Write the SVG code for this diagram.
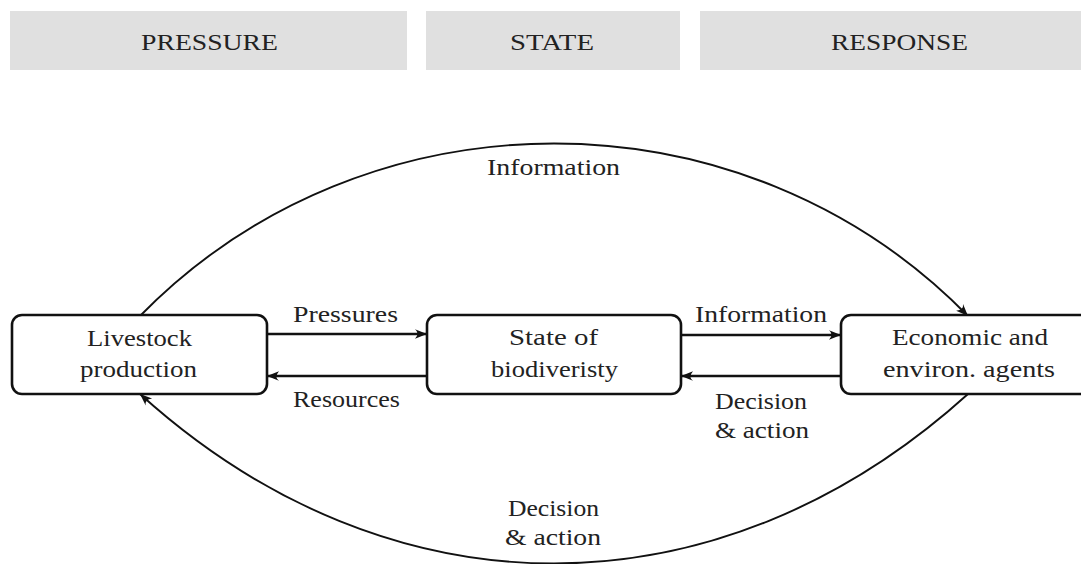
<svg xmlns="http://www.w3.org/2000/svg" width="1081" height="564" viewBox="0 0 1081 564">
  <style>
    text { font-family: "Liberation Serif", "Times New Roman", serif; font-size: 23px; fill: #222; text-anchor: middle; }
    .band { fill: #e0e0e0; }
    .box { fill: #ffffff; stroke: #111; stroke-width: 2.6; }
    .link { fill: none; stroke: #111; stroke-width: 2.4; }
    .arc { fill: none; stroke: #111; stroke-width: 1.9; }
  </style>
  <defs>
    <marker id="tip" markerUnits="userSpaceOnUse" markerWidth="14" markerHeight="12" refX="12" refY="6" orient="auto">
      <path d="M0,1.2 Q5,5 0,10.8 L12,6 Z" fill="#111"/>
    </marker>
  </defs>

  <!-- header bands -->
  <g id="header-pressure">
    <rect class="band" x="10" y="11" width="397" height="59"/>
    <text x="209.5" y="50" textLength="137" lengthAdjust="spacingAndGlyphs">PRESSURE</text>
  </g>
  <g id="header-state">
    <rect class="band" x="426" y="11" width="254" height="59"/>
    <text x="552" y="50" textLength="84" lengthAdjust="spacingAndGlyphs">STATE</text>
  </g>
  <g id="header-response">
    <rect class="band" x="700" y="11" width="381" height="59"/>
    <text x="899.5" y="50" textLength="137" lengthAdjust="spacingAndGlyphs">RESPONSE</text>
  </g>

  <!-- connectors -->
  <g id="connectors">
    <path class="arc" d="M140,316 C365,86 743,86 968,316" marker-end="url(#tip)"/>
    <path class="arc" d="M968,394 C718,620 390,620 140,394" marker-end="url(#tip)"/>
    <line class="link" x1="267" y1="334" x2="427" y2="334" marker-end="url(#tip)"/>
    <line class="link" x1="427" y1="376" x2="267" y2="376" marker-end="url(#tip)"/>
    <line class="link" x1="681" y1="335" x2="841" y2="335" marker-end="url(#tip)"/>
    <line class="link" x1="841" y1="376" x2="681" y2="376" marker-end="url(#tip)"/>
    <text x="553.5" y="175" textLength="133" lengthAdjust="spacingAndGlyphs">Information</text>
    <text x="345.5" y="322" textLength="105" lengthAdjust="spacingAndGlyphs">Pressures</text>
    <text x="346.5" y="407" textLength="107" lengthAdjust="spacingAndGlyphs">Resources</text>
    <text x="761" y="322" textLength="132" lengthAdjust="spacingAndGlyphs">Information</text>
    <text x="761" y="409" textLength="92" lengthAdjust="spacingAndGlyphs">Decision</text>
    <text x="762" y="438" textLength="94" lengthAdjust="spacingAndGlyphs">&amp; action</text>
    <text x="553.5" y="516" textLength="91" lengthAdjust="spacingAndGlyphs">Decision</text>
    <text x="553" y="545" textLength="96" lengthAdjust="spacingAndGlyphs">&amp; action</text>
  </g>

  <!-- nodes -->
  <g id="node-livestock">
    <rect class="box" x="12" y="315" width="255" height="79" rx="10"/>
    <text x="139.5" y="346" textLength="105" lengthAdjust="spacingAndGlyphs">Livestock</text>
    <text x="138.5" y="377" textLength="117" lengthAdjust="spacingAndGlyphs">production</text>
  </g>
  <g id="node-state">
    <rect class="box" x="427" y="315" width="254" height="79" rx="10"/>
    <text x="553.5" y="345" textLength="89" lengthAdjust="spacingAndGlyphs">State of</text>
    <text x="554.5" y="377" textLength="127" lengthAdjust="spacingAndGlyphs">biodiveristy</text>
  </g>
  <g id="node-agents">
    <rect class="box" x="841" y="315" width="254" height="79" rx="10"/>
    <text x="970" y="345" textLength="156" lengthAdjust="spacingAndGlyphs">Economic and</text>
    <text x="969" y="377" textLength="172" lengthAdjust="spacingAndGlyphs">environ. agents</text>
  </g>
</svg>
